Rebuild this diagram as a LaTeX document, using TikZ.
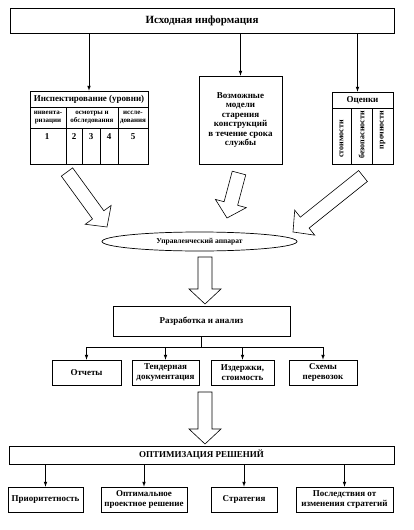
\documentclass[tikz,border=0pt]{standalone}
\usepackage{fontspec}
\setmainfont{Liberation Serif}
\usetikzlibrary{arrows,shapes.geometric,calc}

\newcommand{\fatarrow}[2]{%
  \path ($(#2)!15pt!(#1)$) coordinate (neck);
  \draw[fat] ($(#1)!7pt!90:(#2)$) -- ($(neck)!7pt!90:(#2)$) -- ($(neck)!16pt!90:(#2)$)
    -- (#2) -- ($(neck)!16pt!-90:(#2)$) -- ($(neck)!7pt!-90:(#2)$) -- ($(#1)!7pt!-90:(#2)$) -- cycle;}

\begin{document}
\begin{tikzpicture}[x=1pt,y=-1pt,line width=0.7pt,>=latex]
  \tikzstyle{every node} = [font=\bfseries\fontsize{9}{9.5}\selectfont, align=center, inner sep=1pt]
  \tikzstyle{box} = [draw, rectangle]
  \tikzstyle{small} = [font=\bfseries\fontsize{7}{7.5}\selectfont]
  \tikzstyle{fat} = [fill=white, line width=0.6pt, line join=miter]
  \useasboundingbox (0,0) rectangle (413,530);

  \node[box, minimum width=384, minimum height=25, font=\bfseries\fontsize{11}{12}\selectfont] (src) at (202,20.5) {Исходная информация};

  \node[box, minimum width=118, minimum height=73] (insp) at (89,127.5) {};
  \node (insph) at (89,99) {Инспектирование (уровни)};
  \draw (30,107) -- (148,107) (30,128) -- (148,128);
  \foreach \x in {66,118} \draw (\x,107) -- (\x,164);
  \foreach \x in {82,100} \draw (\x,128) -- (\x,164);
  \node[small] (lv1) at (48,117.5) {инвента-\\ризации};
  \node[small] (lv2) at (92,117.5) {осмотры и\\обследования};
  \node[small] (lv3) at (133,117.5) {иссле-\\дования};
  \foreach \n/\x in {1/47,2/74,3/91,4/109,5/133}
    \node (n\n) at (\x,137) {\n};

  \node[box, minimum width=83, minimum height=88] (model) at (240.5,120)
    {Возможные\\модели\\старения\\конструкций\\в течение срока\\службы};

  \node[box, minimum width=61, minimum height=72] (est) at (362.5,128) {};
  \node (esth) at (362.5,100) {Оценки};
  \draw (332,108) -- (393,108);
  \foreach \x in {351,372} \draw (\x,108) -- (\x,164);
  \node[font=\bfseries\fontsize{8}{8}\selectfont, rotate=90] (e1) at (341.5,139) {стоимости};
  \node[font=\bfseries\fontsize{8}{8}\selectfont, rotate=90] (e2) at (361.5,135) {безопасности};
  \node[font=\bfseries\fontsize{8}{8}\selectfont, rotate=90] (e3) at (382.5,130) {прочности};

  \draw[->] (insp.north |- src.south) -- (insp.north);
  \draw[->] (model.north |- src.south) -- (model.north);
  \draw[->] ([xshift=-5]est.north |- src.south) -- ([xshift=-5]est.north);

  \node[draw, ellipse, minimum width=195, minimum height=19, inner sep=0pt, font=\bfseries\fontsize{7.5}{8}\selectfont] (ctrl) at (199.5,241.5) {Управленческий аппарат};

  \coordinate (t1) at (67,172);  \coordinate (h1) at (107,227);
  \coordinate (t2) at (239,173); \coordinate (h2) at (227,218);
  \coordinate (t3) at (363,176); \coordinate (h3) at (293,232);
  \coordinate (t4) at (205,257); \coordinate (h4) at (205,304);
  \coordinate (t5) at (205,392); \coordinate (h5) at (205,444);
  \foreach \i in {1,...,5}
    \fatarrow{t\i}{h\i};

  \node[box, minimum width=177, minimum height=30] (dev) at (201.5,321) {Разработка и анализ};
  \foreach \i/\x/\w/\t in {1/86.5/69/Отчеты, 2/165.5/67/Тендерная\\документация,
      3/242.5/63/{Издержки,\\стоимость}, 4/323/68/Схемы\\перевозок}
    \node[box, minimum width=\w, minimum height=25] (r\i) at (\x,372.5) {\t};
  \draw (dev.south) -- (dev.south |- 0,347);
  \draw (r1.north |- 0,347) -- (r4.north |- 0,347);
  \foreach \i in {1,...,4}
    \draw[->] (r\i.north |- 0,347) -- (r\i.north);

  \node[box, minimum width=385, minimum height=18] (opt) at (201.5,455) {ОПТИМИЗАЦИЯ РЕШЕНИЙ};
  \foreach \i/\x/\w/\t in {1/45.5/75/Приоритетность, 2/144/86/Оптимальное\\проектное решение,
      3/244/66/Стратегия, 4/344.5/97/Последствия от\\изменения стратегий}
    \node[box, minimum width=\w, minimum height=25] (b\i) at (\x,499.5) {\t};
  \foreach \i in {1,...,4}
    \draw[->] (b\i.north |- opt.south) -- (b\i.north);
\end{tikzpicture}
\end{document}
